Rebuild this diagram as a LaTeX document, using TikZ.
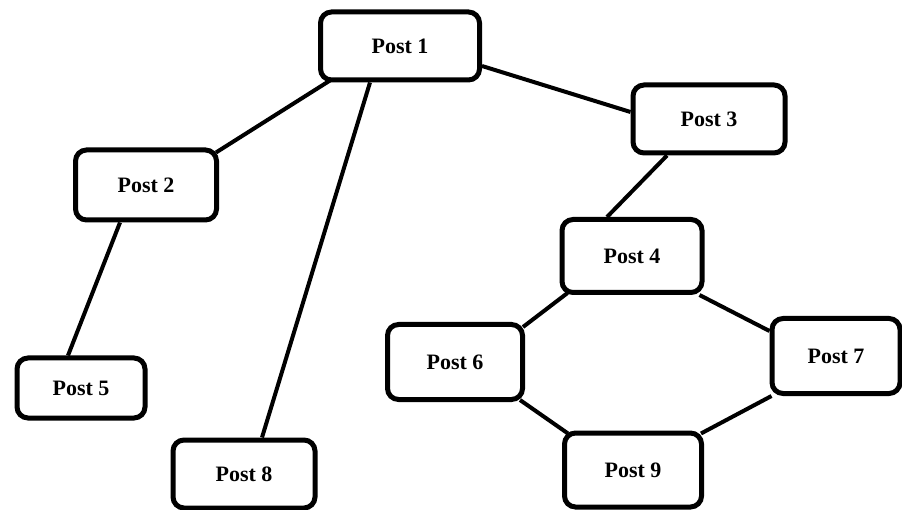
\documentclass[tikz,border=0pt]{standalone}
\usepackage{fontspec}
\setmainfont{Liberation Serif}
\usetikzlibrary{calc,backgrounds}
\begin{document}
\begin{tikzpicture}[x=1pt,y=1pt,
  post/.style={draw=black, fill=white, line width=5pt, rounded corners=11pt,
    inner sep=0pt, font=\fontsize{22}{26}\selectfont\bfseries},
  link/.style={line width=4pt, black}]
\useasboundingbox (0,0) rectangle (902,509);
\node[post, minimum width=159pt, minimum height=68pt] (p1) at (400,463) {Post 1};
\node[post, minimum width=152pt, minimum height=68pt] (p3) at (709,390) {Post 3};
\node[post, minimum width=141pt, minimum height=70pt] (p2) at (146,324) {Post 2};
\node[post, minimum width=140pt, minimum height=73pt] (p4) at (632,253) {Post 4};
\node[post, minimum width=135pt, minimum height=75pt] (p6) at (455,147) {Post 6};
\node[post, minimum width=128pt, minimum height=75pt] (p7) at (836,153) {Post 7};
\node[post, minimum width=128pt, minimum height=60pt] (p5) at (81,121) {Post 5};
\node[post, minimum width=142pt, minimum height=68pt] (p8) at (244,35) {Post 8};
\node[post, minimum width=137pt, minimum height=74pt] (p9) at (633,39) {Post 9};
\begin{scope}[on background layer]
\draw[link] ($(p1.south west)+(12,2)$) -- ($(p2.north east)+(-3,-5)$);
\draw[link] ($(p1.south)+(-30,0)$) -- ($(p8.north)+(18,0)$);
\draw[link] ($(p1.east)+(0,-20)$) -- ($(p3.west)+(0,7)$);
\draw[link] ($(p3.south)+(-42,0)$) -- ($(p4.north)+(-25,0)$);
\draw[link] ($(p2.south)+(-26,0)$) -- ($(p5.north)+(-13,0)$);
\draw[link] ($(p4.south west)+(8,2)$) -- ($(p6.north east)+(-2,-5)$);
\draw[link] ($(p4.south east)+(-5,0)$) -- ($(p7.north west)+(0,-15)$);
\draw[link] ($(p6.south east)+(-5,2)$) -- ($(p9.north west)+(6,-3)$);
\draw[link] ($(p7.south west)+(2,0)$) -- ($(p9.north east)+(-3,-3)$);
\end{scope}
\end{tikzpicture}
\end{document}
